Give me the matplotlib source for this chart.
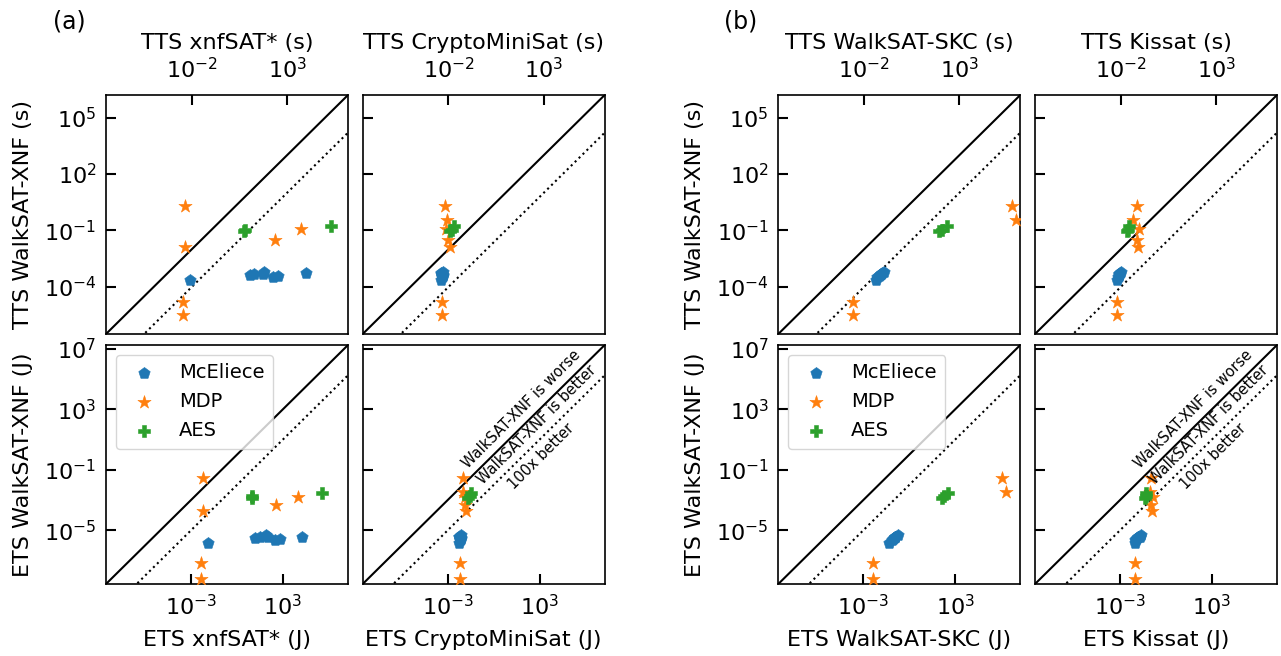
import numpy as np
import matplotlib
matplotlib.use("Agg")
import matplotlib.pyplot as plt
from matplotlib.ticker import NullLocator, FixedLocator

nan = np.nan

solvers = ["xnfSAT*", "CryptoMiniSat", "WalkSAT-SKC", "Kissat"]
families = ["McEliece", "MDP", "AES"]

# ---------------- McEliece ----------------
mce_tts_xnf = [2.3e-4, 4.4e-4, 4.9e-4, 6.6e-4, 4.8e-4, 3.2e-4, 4.0e-4, 5.4e-4]
mce_tts_xnfsat = [8.3e-3, 11, 18, 62, 55, 180, 340, 1.05e4]
mce_tts_cms = [4.0e-3, 5.0e-3, 4.5e-3, 5.0e-3, 4.0e-3, 4.5e-3, 5.0e-3, 4.0e-3]
mce_tts_skc = [0.040, 0.071, 0.079, 0.112, 0.079, 0.050, 0.063, 0.089]
mce_tts_kissat = [6.3e-3, 7.9e-3, 7.9e-3, 1.0e-2, 7.9e-3, 7.1e-3, 7.9e-3, 8.9e-3]
mce_ets_xnf = [1.35e-6, 3.2e-6, 3.5e-6, 4.7e-6, 3.5e-6, 2.2e-6, 2.8e-6, 3.6e-6]
mce_ets_xnfsat = [0.0123, 14, 30, 81, 100, 290, 620, 1.8e4]
mce_ets_cms = [5.6e-3, 7.1e-3, 6.3e-3, 7.1e-3, 5.6e-3, 6.3e-3, 7.1e-3, 5.6e-3]
mce_ets_skc = [0.047, 0.10, 0.112, 0.178, 0.12, 0.071, 0.089, 0.126]
mce_ets_kissat = [8.9e-3, 0.0126, 0.0141, 0.025, 0.0158, 0.010, 0.0112, 0.020]

# ---------------- MDP ----------------
mdp_tts_xnf = [1.9, 0.37, 0.126, 0.032, 0.0135, 1.66e-5, 3.2e-6]
mdp_tts_xnfsat = [4.5e-3, nan, 5600, 245, 4.5e-3, 3.4e-3, 3.4e-3]
mdp_tts_cms = [6.8e-3, 8.3e-3, 7.9e-3, 0.010, 0.0123, 4.5e-3, 4.5e-3]
mdp_tts_skc = [5.5e5, 9.8e5, nan, nan, nan, 2.75e-3, 2.75e-3]
mdp_tts_kissat = [0.071, 0.044, 0.091, 0.071, 0.079, 6.5e-3, 6.5e-3]
mdp_ets_xnf = [0.027, 3.2e-3, 1.55e-3, 4.4e-4, 1.8e-4, 7.2e-8, 6.2e-9]
mdp_ets_xnfsat = [6.5e-3, nan, 9800, 370, 6.5e-3, 4.3e-3, 4.3e-3]
mdp_ets_cms = [9.5e-3, 0.0107, 0.0126, 0.0145, 0.0158, 6.5e-3, 6.5e-3]
mdp_ets_skc = [1.07e6, 2.2e6, nan, nan, nan, 4.5e-3, 4.5e-3]
mdp_ets_kissat = [0.11, 0.087, 0.141, 0.105, 0.123, 0.0102, 0.0102]

# ---------------- AES ----------------
aes_tts_xnf = [0.089, 0.112, 0.178]
aes_tts_xnfsat = [5.5, 6.0, 2.1e5]
aes_tts_cms = [0.0126, 0.0158, 0.020]
aes_tts_skc = [91, 126, 224]
aes_tts_kissat = [0.022, 0.024, 0.026]
aes_ets_xnf = [1.38e-3, 1.78e-3, 2.95e-3]
aes_ets_xnfsat = [9.3, 10, 3.6e5]
aes_ets_cms = [0.022, 0.028, 0.035]
aes_ets_skc = [141, 200, 355]
aes_ets_kissat = [0.045, 0.050, 0.050]

tts_y = {"McEliece": mce_tts_xnf, "MDP": mdp_tts_xnf, "AES": aes_tts_xnf}
ets_y = {"McEliece": mce_ets_xnf, "MDP": mdp_ets_xnf, "AES": aes_ets_xnf}
tts_x = {
    "McEliece": [mce_tts_xnfsat, mce_tts_cms, mce_tts_skc, mce_tts_kissat],
    "MDP": [mdp_tts_xnfsat, mdp_tts_cms, mdp_tts_skc, mdp_tts_kissat],
    "AES": [aes_tts_xnfsat, aes_tts_cms, aes_tts_skc, aes_tts_kissat],
}
ets_x = {
    "McEliece": [mce_ets_xnfsat, mce_ets_cms, mce_ets_skc, mce_ets_kissat],
    "MDP": [mdp_ets_xnfsat, mdp_ets_cms, mdp_ets_skc, mdp_ets_kissat],
    "AES": [aes_ets_xnfsat, aes_ets_cms, aes_ets_skc, aes_ets_kissat],
}

tts_xticks = [1e-2, 1e3]
tts_yticks = [1e-7, 1e-4, 1e-1, 1e2, 1e5]
ets_xticks = [1e-3, 1e3]
ets_yticks = [1e-5, 1e-1, 1e3, 1e7]
tts_lim = (10 ** -6.5, 10 ** 6.2)
ets_lim = (10 ** -8.55, 10 ** 7.25)

markers = {"McEliece": "p", "MDP": "*", "AES": "P"}
colors = {"McEliece": "#1f77b4", "MDP": "#ff7f0e", "AES": "#2ca02c"}
sizes = {"McEliece": 75, "MDP": 100, "AES": 68}

W, H = 1281, 656
col_left = [106, 362.7, 778.3, 1035]
ax_w = 242
row_top = [95, 345]
ax_h = 239

FS = 16
fig = plt.figure(figsize=(W / 100, H / 100), dpi=100)

for row in range(2):
    for c in range(4):
        rect = [col_left[c] / W, 1 - (row_top[row] + ax_h) / H, ax_w / W, ax_h / H]
        ax = fig.add_axes(rect)
        ax.set_xscale("log")
        ax.set_yscale("log")
        lim = tts_lim if row == 0 else ets_lim
        ydat = tts_y if row == 0 else ets_y
        xdat = tts_x if row == 0 else ets_x
        for fam in families:
            ax.scatter(xdat[fam][c], ydat[fam], marker=markers[fam], s=sizes[fam],
                       color=colors[fam], label=fam, zorder=3, linewidths=0.4)
        ax.plot(lim, lim, color="k", lw=1.5, zorder=2)
        ax.plot(lim, [lim[0] / 100, lim[1] / 100], color="k", ls=":", lw=1.5, zorder=2)
        ax.set_xlim(lim)
        ax.set_ylim(lim)
        for s in ax.spines.values():
            s.set_linewidth(1.2)
        ax.xaxis.set_minor_locator(NullLocator())
        ax.yaxis.set_minor_locator(NullLocator())
        ax.tick_params(direction="in", length=7, width=1.5, labelsize=FS, pad=7)
        if row == 0:
            ax.xaxis.set_major_locator(FixedLocator(tts_xticks))
            ax.yaxis.set_major_locator(FixedLocator(tts_yticks))
            ax.xaxis.set_label_position("top")
            ax.tick_params(axis="x", top=True, bottom=False, labeltop=True,
                           labelbottom=False, pad=9)
            ax.set_xlabel(f"TTS {solvers[c]} (s)", fontsize=FS, labelpad=6)
            if c in (0, 2):
                ax.set_ylabel("TTS WalkSAT-XNF (s)", fontsize=FS, labelpad=8)
        else:
            ax.xaxis.set_major_locator(FixedLocator(ets_xticks))
            ax.yaxis.set_major_locator(FixedLocator(ets_yticks))
            ax.set_xlabel(f"ETS {solvers[c]} (J)", fontsize=FS, labelpad=8)
            if c in (0, 2):
                ax.set_ylabel("ETS WalkSAT-XNF (J)", fontsize=FS, labelpad=8)
                ax.legend(loc="upper left", fontsize=14, borderpad=0.45,
                          handletextpad=0.8, scatterpoints=1)
            else:
                kw = dict(rotation=45, ha="center", va="center", fontsize=10.5,
                          rotation_mode="anchor")
                ax.text(10 ** 1.8, 10 ** 3.0, "WalkSAT-XNF is worse", **kw)
                ax.text(10 ** 2.8, 10 ** 2.0, "WalkSAT-XNF is better", **kw)
                ax.text(10 ** 3.1, 10 ** -0.1, "100x better", **kw)
        if c in (1, 3):
            ax.tick_params(axis="y", labelleft=False)

fig.text(69 / W, 1 - 21 / H, "(a)", fontsize=17, ha="center", va="center")
fig.text(741 / W, 1 - 21 / H, "(b)", fontsize=17, ha="center", va="center")

fig.savefig("out.png", dpi=100)
